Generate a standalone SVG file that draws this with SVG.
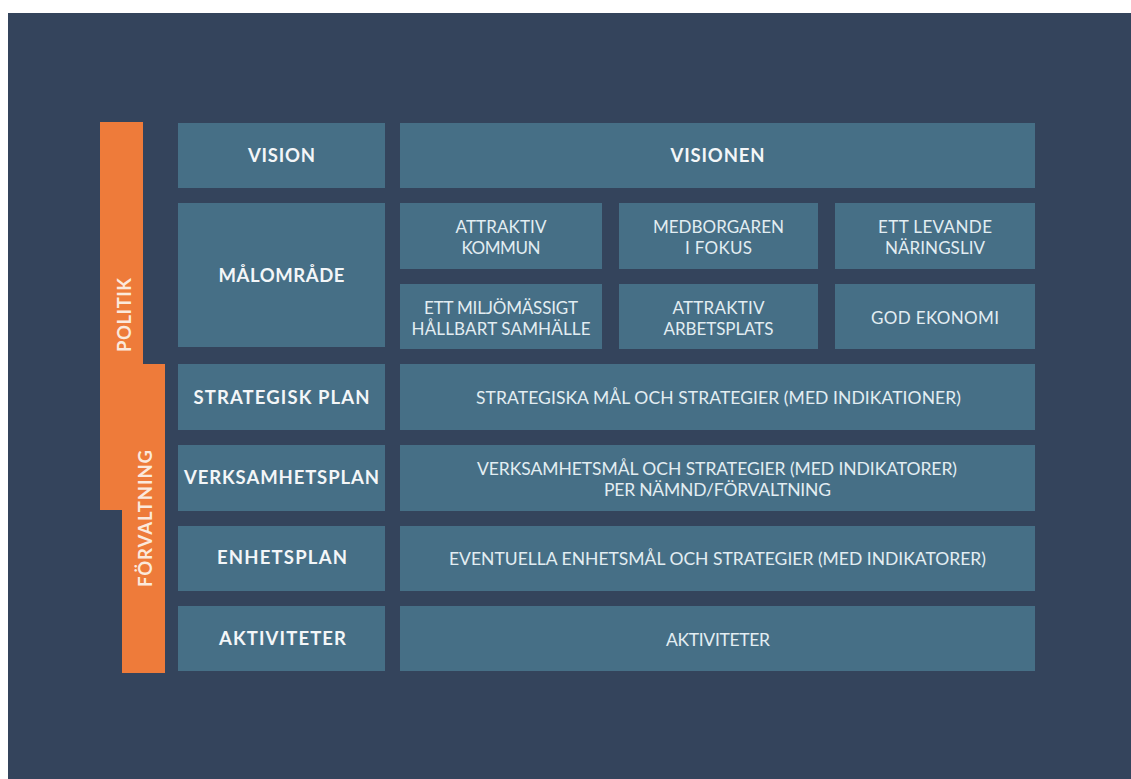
<svg xmlns="http://www.w3.org/2000/svg" width="1131" height="779" viewBox="0 0 1131 779">
<style>
.bg{fill:#34445c}
.box{fill:#466f86}
.band{fill:#ee7b3a}
.h{font-family:Lato,"Open Sans","Liberation Sans",sans-serif;font-weight:700;font-size:18.5px;fill:#f3f6f8;text-anchor:middle}
.t{font-family:Lato,"Open Sans","Liberation Sans",sans-serif;font-weight:400;font-size:17.5px;fill:#e2edf2;text-anchor:middle}
.s{font-family:Lato,"Open Sans","Liberation Sans",sans-serif;font-weight:400;font-size:17px;fill:#e2edf2;text-anchor:middle}
.v{font-family:Lato,"Open Sans","Liberation Sans",sans-serif;font-weight:700;font-size:18.5px;fill:#fbe9dc;text-anchor:middle}
</style>
<rect x="0" y="0" width="1131" height="779" fill="#ffffff"/>
<rect class="bg" x="8" y="13" width="1123" height="766"/>
<g id="band">
<polygon class="band" points="100,122 143,122 143,364 165,364 165,673 122,673 122,510 100,510"/>
<text class="v" transform="translate(130.5,315) rotate(-90)" textLength="74" lengthAdjust="spacing">POLITIK</text>
<text class="v" transform="translate(151.5,518.5) rotate(-90)" textLength="137" lengthAdjust="spacing">FÖRVALTNING</text>
</g>
<g id="vision">
<rect class="box" x="178" y="123" width="207" height="65"/>
<text class="h" x="281.5" y="162" textLength="67" lengthAdjust="spacing">VISION</text>
</g>
<g id="visionen">
<rect class="box" x="400" y="123" width="635" height="65"/>
<text class="h" x="717.5" y="162" textLength="94" lengthAdjust="spacing">VISIONEN</text>
</g>
<g id="malomrade">
<rect class="box" x="178" y="203" width="207" height="144"/>
<text class="h" x="281.5" y="282" textLength="126" lengthAdjust="spacing">MÅLOMRÅDE</text>
</g>
<g id="attraktiv-kommun">
<rect class="box" x="400" y="203" width="202" height="66"/>
<text class="s" x="501" y="233" textLength="91" lengthAdjust="spacing">ATTRAKTIV</text>
<text class="s" x="501" y="254" textLength="79" lengthAdjust="spacing">KOMMUN</text>
</g>
<g id="medborgaren">
<rect class="box" x="619" y="203" width="199" height="66"/>
<text class="s" x="718.5" y="233" textLength="131" lengthAdjust="spacing">MEDBORGAREN</text>
<text class="s" x="718.5" y="254" textLength="67" lengthAdjust="spacing">I FOKUS</text>
</g>
<g id="naringsliv">
<rect class="box" x="835" y="203" width="200" height="66"/>
<text class="s" x="935" y="233" textLength="114" lengthAdjust="spacing">ETT LEVANDE</text>
<text class="s" x="935" y="254" textLength="100" lengthAdjust="spacing">NÄRINGSLIV</text>
</g>
<g id="miljo">
<rect class="box" x="400" y="284" width="202" height="65"/>
<text class="s" x="501" y="314" textLength="154" lengthAdjust="spacing">ETT MILJÖMÄSSIGT</text>
<text class="s" x="501" y="335" textLength="179" lengthAdjust="spacing">HÅLLBART SAMHÄLLE</text>
</g>
<g id="arbetsplats">
<rect class="box" x="619" y="284" width="199" height="65"/>
<text class="s" x="718.5" y="314" textLength="92" lengthAdjust="spacing">ATTRAKTIV</text>
<text class="s" x="718.5" y="335" textLength="110" lengthAdjust="spacing">ARBETSPLATS</text>
</g>
<g id="ekonomi">
<rect class="box" x="835" y="284" width="200" height="65"/>
<text class="s" x="935" y="323.5" textLength="128" lengthAdjust="spacing">GOD EKONOMI</text>
</g>
<g id="strategisk-plan">
<rect class="box" x="178" y="364" width="207" height="66"/>
<text class="h" x="281.5" y="404" textLength="176" lengthAdjust="spacing">STRATEGISK PLAN</text>
</g>
<g id="strategiska-mal">
<rect class="box" x="400" y="364" width="635" height="66"/>
<text class="t" x="718.5" y="404" textLength="485" lengthAdjust="spacing">STRATEGISKA MÅL OCH STRATEGIER (MED INDIKATIONER)</text>
</g>
<g id="verksamhetsplan">
<rect class="box" x="178" y="445" width="207" height="66"/>
<text class="h" x="281.5" y="484" textLength="195" lengthAdjust="spacing">VERKSAMHETSPLAN</text>
</g>
<g id="verksamhetsmal">
<rect class="box" x="400" y="445" width="635" height="66"/>
<text class="t" x="717" y="474.5" textLength="480" lengthAdjust="spacing">VERKSAMHETSMÅL OCH STRATEGIER (MED INDIKATORER)</text>
<text class="t" x="717.5" y="495.5" textLength="227" lengthAdjust="spacing">PER NÄMND/FÖRVALTNING</text>
</g>
<g id="enhetsplan">
<rect class="box" x="178" y="526" width="207" height="65"/>
<text class="h" x="282" y="564" textLength="130" lengthAdjust="spacing">ENHETSPLAN</text>
</g>
<g id="enhetsmal">
<rect class="box" x="400" y="526" width="635" height="65"/>
<text class="t" x="717.5" y="565" textLength="537" lengthAdjust="spacing">EVENTUELLA ENHETSMÅL OCH STRATEGIER (MED INDIKATORER)</text>
</g>
<g id="aktiviteter-label">
<rect class="box" x="178" y="606" width="207" height="65"/>
<text class="h" x="282.5" y="645" textLength="127" lengthAdjust="spacing">AKTIVITETER</text>
</g>
<g id="aktiviteter">
<rect class="box" x="400" y="606" width="635" height="65"/>
<text class="t" x="718" y="646" textLength="104" lengthAdjust="spacing">AKTIVITETER</text>
</g>
<g id="connectors"></g>
</svg>
